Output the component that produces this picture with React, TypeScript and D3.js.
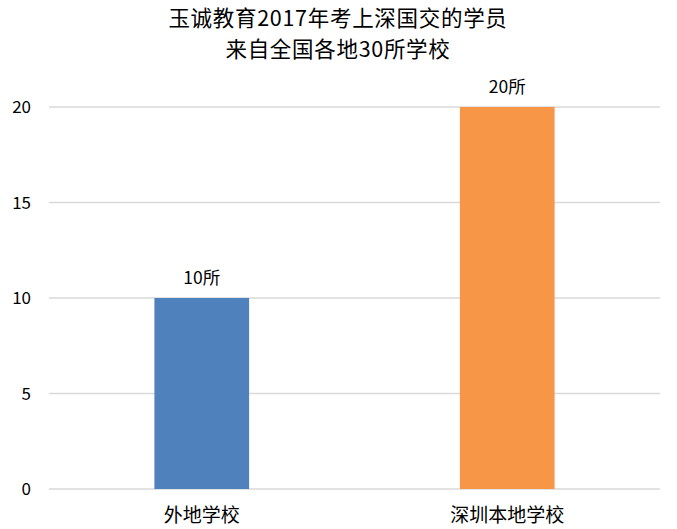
import React from "react";
import * as d3 from "d3";

const titleLines = ["玉诚教育2017年考上深国交的学员", "来自全国各地30所学校"];
const categories = ["外地学校", "深圳本地学校"];
const values = [10, 20];
const colors = ["#4F81BD", "#F79646"];
const yTicks = [0, 5, 10, 15, 20];
const labelSuffix = "所";

const W = 677;
const H = 529;
const margin = { left: 49, right: 17, top: 107, bottom: 40 };
const font = "'Noto Sans CJK SC', 'Noto Sans', sans-serif";

export default function App() {
  const x = d3
    .scaleBand<string>()
    .domain(categories)
    .range([margin.left, W - margin.right])
    .paddingInner(0.69)
    .paddingOuter(0.345);
  const y = d3.scaleLinear().domain([0, 20]).range([489, 107]);

  return (
    <svg width={W} height={H} style={{ position: "absolute", left: 0, top: 0 }} fontFamily={font}>
      <rect width={W} height={H} fill="#fff" />
      {titleLines.map((t, i) => (
        <text key={i} x={338} y={26 + i * 31} textAnchor="middle" fontSize={21.5} letterSpacing={0.7} fill="#000">
          {t}
        </text>
      ))}
      {yTicks.map((t) => (
        <g key={t}>
          <line x1={margin.left} x2={W - margin.right} y1={y(t)} y2={y(t)} stroke="#D9D9D9" strokeWidth={1.5} />
          <text x={31} y={y(t) + 6} textAnchor="end" fontSize={17} fill="#000">
            {t}
          </text>
        </g>
      ))}
      {categories.map((c, i) => (
        <g key={c}>
          <rect x={x(c)} y={y(values[i])} width={x.bandwidth()} height={y(0) - y(values[i])} fill={colors[i]} />
          <text x={(x(c) as number) + x.bandwidth() / 2} y={y(values[i]) - 14} textAnchor="middle" fontSize={17.5} fill="#000">
            {values[i] + labelSuffix}
          </text>
          <text x={(x(c) as number) + x.bandwidth() / 2} y={522} textAnchor="middle" fontSize={19} fill="#000">
            {c}
          </text>
        </g>
      ))}
    </svg>
  );
}
